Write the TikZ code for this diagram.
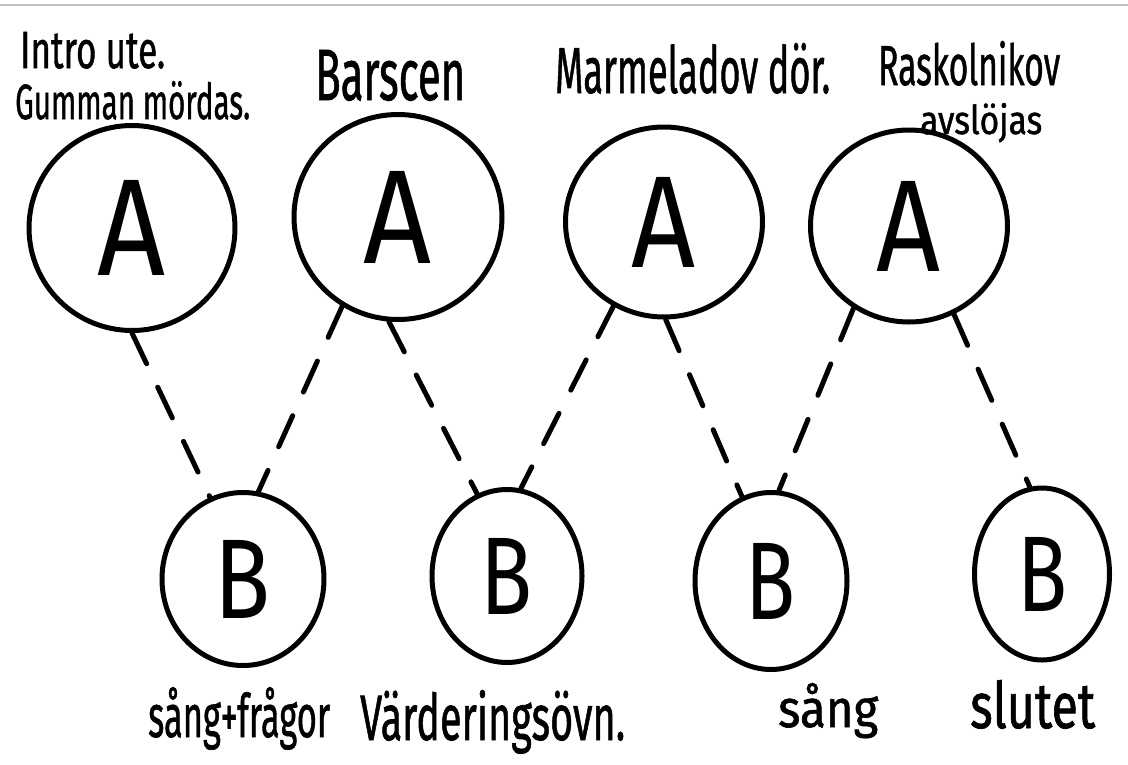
\documentclass[tikz,border=0pt]{standalone}
\usepackage{fontspec}
\setmainfont{Fira Sans}
\newfontfamily\hand{Fira Sans}[FakeBold=1.2]
\usetikzlibrary{shapes.geometric}
\newcommand\fitT[3]{\resizebox{#1pt}{#2pt}{#3}}
\tikzset{
  anode/.style={ellipse, draw=black, line width=5pt, inner sep=0pt},
  bnode/.style={ellipse, draw=black, line width=5pt, inner sep=0pt},
  lbl/.style={anchor=base west, inner sep=0pt, font=\hand},
  link/.style={line width=5pt, line cap=round, dash pattern=on 34pt off 26pt, black}
}
\begin{document}
\begin{tikzpicture}[x=1pt,y=-1pt]
\useasboundingbox (0,0) rectangle (1128,764);
\fill[white] (0,0) rectangle (1128,764);
\draw[black!25, line width=1.5pt] (0,5) -- (1128,5);
% A nodes
\node[anode, minimum width=206pt, minimum height=205pt] (A1) at (132,228) {\fitT{68}{95}{A}};
\node[anode, minimum width=208pt, minimum height=205pt] (A2) at (398,217) {\fitT{68}{92}{A}};
\node[anode, minimum width=197pt, minimum height=190pt] (A3) at (664,222) {\fitT{64}{90}{A}};
\node[anode, minimum width=197pt, minimum height=192pt] (A4) at (909,226) {\fitT{64}{90}{A}};
% B nodes
\node[bnode, minimum width=162pt, minimum height=173pt] (B1) at (243,579) {\fitT{56}{78}{B}};
\node[bnode, minimum width=150pt, minimum height=173pt] (B2) at (507,576) {\fitT{52}{76}{B}};
\node[bnode, minimum width=152pt, minimum height=177pt] (B3) at (771,581) {\fitT{50}{76}{B}};
\node[bnode, minimum width=135pt, minimum height=172pt] (B4) at (1042,574) {\fitT{50}{74}{B}};
% labels
\node[lbl] (t1) at (20,68) {\fitT{145}{36}{Intro ute.}};
\node[lbl] (t2) at (15,119) {\fitT{235}{38}{Gumman mördas.}};
\node[lbl] (t3) at (315,100) {\fitT{150}{50}{Barscen}};
\node[lbl] (t4) at (555,93) {\fitT{275}{50}{Marmeladov dör.}};
\node[lbl] (t5) at (878,85) {\fitT{182}{44}{Raskolnikov}};
\node[lbl] (t6) at (920,134) {\fitT{122}{31}{avslöjas}};
\node[lbl] (t7) at (148,737) {\fitT{182}{50}{sång+frågor}};
\node[lbl] (t8) at (360,740) {\fitT{265}{50}{Värderingsövn.}};
\node[lbl] (t9) at (778,727) {\fitT{100}{44}{sång}};
\node[lbl] (t10) at (970,728) {\fitT{125}{48}{slutet}};
% connectors
\draw[link] (A1.270) -- (B1.112);
\draw[link] (A2.238) -- (B1.80);
\draw[link] (A2.265) -- (B2.110);
\draw[link] (A3.239) -- (B2.81);
\draw[link] (A3.271) -- (B3.109);
\draw[link] (A4.236) -- (B3.85);
\draw[link] (A4.297) -- (B4.98);
\end{tikzpicture}
\end{document}
